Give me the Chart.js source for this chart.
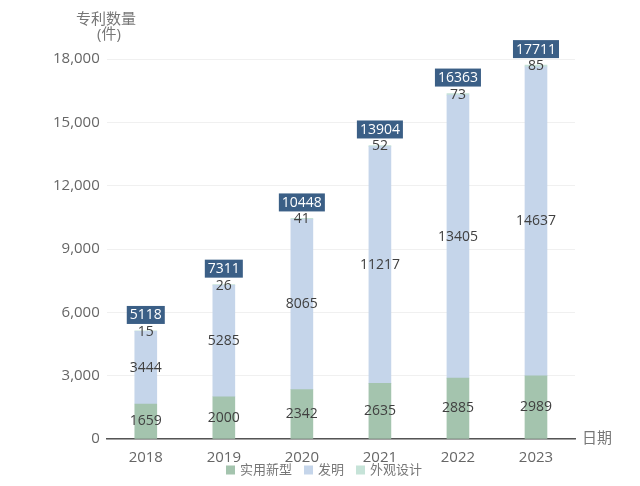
<!DOCTYPE html>
<html>
<head>
<meta charset="utf-8">
<script src="https://cdn.jsdelivr.net/npm/chart.js@4"></script>
<style>
  html, body { margin: 0; padding: 0; background: #fff; }
  #wrap { width: 640px; height: 486px; }
</style>
</head>
<body>
<div id="wrap"><canvas id="myChart"></canvas></div>
<script>
const years = ['2018', '2019', '2020', '2021', '2022', '2023'];
const utility = [1659, 2000, 2342, 2635, 2885, 2989];
const invention = [3444, 5285, 8065, 11217, 13405, 14637];
const design = [15, 26, 41, 52, 73, 85];
const totals = [5118, 7311, 10448, 13904, 16363, 17711];

const FONT = '"Open Sans", "Noto Sans CJK SC", sans-serif';

// value labels, total boxes, axis titles and the legend row
const labelPlugin = {
    id: 'labels',
    afterDatasetsDraw(chart) {
        const ctx = chart.ctx;
        ctx.save();
        ctx.font = '14px ' + FONT;
        ctx.textAlign = 'center';
        ctx.textBaseline = 'middle';
        ctx.fillStyle = '#404040';
        chart.data.datasets.forEach((ds, i) => {
            const meta = chart.getDatasetMeta(i);
            meta.data.forEach((el, j) => {
                let y = (el.y + el.base) / 2;
                if (i === 2) y = el.y + 1;
                ctx.fillText(String(ds.data[j]), el.x, y);
            });
        });
        // totals
        const top = chart.getDatasetMeta(2);
        top.data.forEach((el, j) => {
            const txt = String(totals[j]);
            const w = ctx.measureText(txt).width + 6;
            const h = 18;
            const by = el.y - 7 - h;
            ctx.fillStyle = '#3b5f86';
            ctx.fillRect(el.x - w / 2, by, w, h);
            ctx.fillStyle = '#fff';
            ctx.fillText(txt, el.x, by + h / 2 + 0.5);
        });
        // axis titles
        const a = chart.chartArea;
        ctx.fillStyle = '#777';
        ctx.font = '15px ' + FONT;
        ctx.fillText('专利数量', 106, 20);
        ctx.fillText('(件)', 109, 35);
        ctx.textAlign = 'left';
        ctx.fillText('日期', a.right + 7, a.bottom);

        // legend
        ctx.font = '13px ' + FONT;
        const items = chart.data.datasets.map(ds => ({
            text: ds.label, color: ds.backgroundColor, w: 9 + 5 + ctx.measureText(ds.label).width
        }));
        const gap = 12;
        let total = items.reduce((s, it) => s + it.w, 0) + gap * (items.length - 1);
        let x = 324 - total / 2;
        const ly = 470;
        items.forEach(it => {
            ctx.fillStyle = it.color;
            ctx.fillRect(x, ly - 4.5, 9, 9);
            ctx.fillStyle = '#777';
            ctx.fillText(it.text, x + 14, ly);
            x += it.w + gap;
        });
        ctx.restore();
    }
};

new Chart(document.getElementById('myChart'), {
    type: 'bar',
    data: {
        labels: years,
        datasets: [
            { label: '实用新型', data: utility, backgroundColor: '#a4c4ae' },
            { label: '发明', data: invention, backgroundColor: '#c5d5ea' },
            { label: '外观设计', data: design, backgroundColor: '#c6e3d8' }
        ]
    },
    options: {
        responsive: true,
        maintainAspectRatio: false,
        animation: false,
        layout: { padding: { top: 59, right: 65, left: 46, bottom: 17 } },
        datasets: { bar: { barThickness: 22 } },
        scales: {
            x: {
                stacked: true,
                grid: { display: false },
                border: { display: true, color: '#555', width: 1.5 },
                ticks: { color: '#666', font: { family: FONT, size: 15 }, padding: 2 }
            },
            y: {
                stacked: true,
                min: 0, max: 18000,
                ticks: {
                    stepSize: 3000,
                    color: '#666',
                    font: { family: FONT, size: 15 },
                    padding: 7,
                    callback: v => v.toLocaleString('en-US')
                },
                grid: { color: '#f0f0f0', drawTicks: false },
                border: { display: false }
            }
        },
        plugins: {
            legend: { display: false },
            tooltip: { enabled: false }
        }
    },
    plugins: [labelPlugin]
});
</script>
</body>
</html>
